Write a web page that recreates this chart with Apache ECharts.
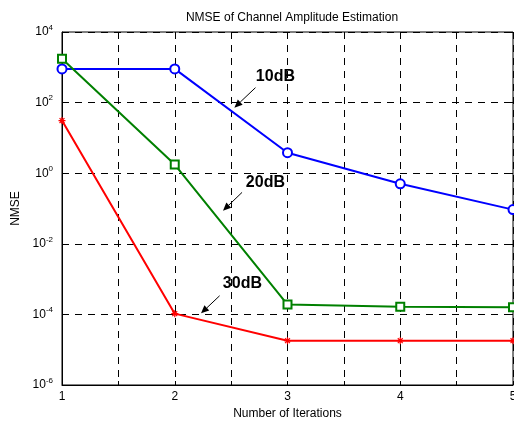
<!DOCTYPE html>
<html>
<head>
<meta charset="utf-8">
<script src="https://cdn.jsdelivr.net/npm/echarts@6/dist/echarts.min.js"></script>
<style>
  html, body { margin: 0; padding: 0; background: #fff; }
  #chart { width: 514px; height: 421px; }
</style>
</head>
<body>
<div id="chart"></div>
<script>
// iteration counts on x
const iterations = [1, 2, 3, 4, 5]
// NMSE values
const nmse10dB = [900, 900, 3.8, 0.5, 0.093]
const nmse20dB = [1740, 1.76, 1.9e-4, 1.65e-4, 1.6e-4]
const nmse30dB = [31, 1.05e-4, 1.8e-5, 1.8e-5, 1.8e-5]
const seriesNames = ['10dB', '20dB', '30dB']

// annotation text positions and arrows, in data coordinates [x, y]
const annoText = [[2.893, 540], [2.804, 0.557], [2.6, 7.46e-4]]
const annoTail = [[2.716, 265], [2.597, 0.286], [2.398, 3.37e-4]]
const annoTip = [[2.529, 72], [2.428, 0.0867], [2.233, 1.07e-4]]

const font = 'Arial, "Liberation Sans", sans-serif'
const dash = [7, 6]

let chart = echarts.init(document.getElementById('chart'))

function pairs(values) {
    return iterations.map((x, i) => [x, values[i]])
}

const starPath = 'path://M0,-10L0,10M-10,0L10,0M-7,-7L7,7M-7,7L7,-7'

chart.setOption({
    animation: false,
    backgroundColor: '#fff',
    title: {
        text: 'NMSE of Channel Amplitude Estimation',
        left: 287,
        top: 7,
        textAlign: 'center',
        textStyle: { fontFamily: font, fontSize: 12, fontWeight: 'normal', color: '#000' }
    },
    grid: {
        left: 62,
        right: 1,
        top: 32,
        bottom: 36,
        outerBoundsMode: 'none',
        containLabel: false,
        show: true,
        borderColor: '#000',
        borderWidth: 1
    },
    xAxis: [
        {
            type: 'value',
            min: 1,
            max: 5,
            interval: 0.5,
            name: 'Number of Iterations',
            nameLocation: 'middle',
            nameGap: 19,
            nameTextStyle: { fontFamily: font, fontSize: 12, color: '#000' },
            axisLine: { show: true, onZero: false, lineStyle: { color: '#000' } },
            axisTick: { inside: true, length: 4, lineStyle: { color: '#000' } },
            axisLabel: {
                margin: 6,
                fontFamily: font,
                fontSize: 12,
                color: '#000',
                formatter: v => (Number.isInteger(v) ? String(v) : '')
            },
            splitLine: { show: true, lineStyle: { color: '#000', type: dash, width: 1 } }
        },
        {
            type: 'value',
            position: 'top',
            min: 1,
            max: 5,
            interval: 0.5,
            axisLine: { show: false },
            axisTick: { inside: true, length: 4, lineStyle: { color: '#000' } },
            axisLabel: { show: false },
            splitLine: { show: false }
        }
    ],
    yAxis: [
        {
            type: 'log',
            logBase: 10,
            min: 1e-6,
            max: 1e4,
            interval: 2,
            name: 'NMSE',
            nameLocation: 'middle',
            nameGap: 35,
            nameTextStyle: { fontFamily: font, fontSize: 12, color: '#000' },
            axisLine: { show: true, lineStyle: { color: '#000' } },
            axisTick: { inside: true, length: 4, lineStyle: { color: '#000' } },
            axisLabel: {
                margin: 9,
                color: '#000',
                formatter: v => '10{s|' + Math.round(Math.log10(v)) + '}',
                rich: {
                    s: { fontFamily: font, fontSize: 8, color: '#000', verticalAlign: 'top', padding: [0, 0, 9, 0] }
                },
                fontFamily: font,
                fontSize: 12
            },
            splitLine: { show: true, lineStyle: { color: '#000', type: dash, width: 1 } }
        },
        {
            type: 'log',
            logBase: 10,
            position: 'right',
            min: 1e-6,
            max: 1e4,
            interval: 2,
            axisLine: { show: false },
            axisTick: { show: true, inside: true, length: 4, lineStyle: { color: '#000' } },
            axisLabel: { show: false },
            splitLine: { show: false }
        }
    ],
    series: [
        {
            name: seriesNames[0],
            type: 'line',
            data: pairs(nmse10dB),
            symbol: 'emptyCircle',
            symbolSize: 9,
            lineStyle: { color: '#0000ff', width: 2 },
            itemStyle: { color: '#0000ff', borderWidth: 2 }
        },
        {
            name: seriesNames[1],
            type: 'line',
            data: pairs(nmse20dB),
            symbol: 'emptyRect',
            symbolSize: 8,
            lineStyle: { color: '#008000', width: 2 },
            itemStyle: { color: '#008000', borderWidth: 2 }
        },
        {
            name: seriesNames[2],
            type: 'line',
            data: pairs(nmse30dB),
            symbol: starPath,
            symbolSize: 7,
            lineStyle: { color: '#ff0000', width: 2 },
            itemStyle: { color: '#ff0000', borderColor: '#ff0000', borderWidth: 1.2 }
        }
    ]
})

// arrows and labels pointing at each curve
function drawAnnotations() {
    let elements = []
    seriesNames.forEach((name, i) => {
        let t = chart.convertToPixel({ xAxisIndex: 0, yAxisIndex: 0 }, annoText[i])
        let a = chart.convertToPixel({ xAxisIndex: 0, yAxisIndex: 0 }, annoTail[i])
        let b = chart.convertToPixel({ xAxisIndex: 0, yAxisIndex: 0 }, annoTip[i])
        let dx = b[0] - a[0], dy = b[1] - a[1]
        let len = Math.sqrt(dx * dx + dy * dy)
        let ux = dx / len, uy = dy / len
        let headLen = 8, headW = 3.5
        let bx = b[0] - ux * headLen, by = b[1] - uy * headLen
        elements.push({
            type: 'text',
            x: t[0],
            y: t[1],
            style: {
                text: name,
                align: 'center',
                verticalAlign: 'middle',
                font: 'bold 16px ' + font,
                fill: '#000'
            }
        })
        elements.push({
            type: 'line',
            shape: { x1: a[0], y1: a[1], x2: bx, y2: by },
            style: { stroke: '#000', lineWidth: 1 }
        })
        elements.push({
            type: 'polygon',
            shape: {
                points: [
                    [b[0], b[1]],
                    [bx - uy * headW, by + ux * headW],
                    [bx + uy * headW, by - ux * headW]
                ]
            },
            style: { fill: '#000' }
        })
    })
    chart.setOption({ graphic: elements })
}
drawAnnotations()
</script>
</body>
</html>
